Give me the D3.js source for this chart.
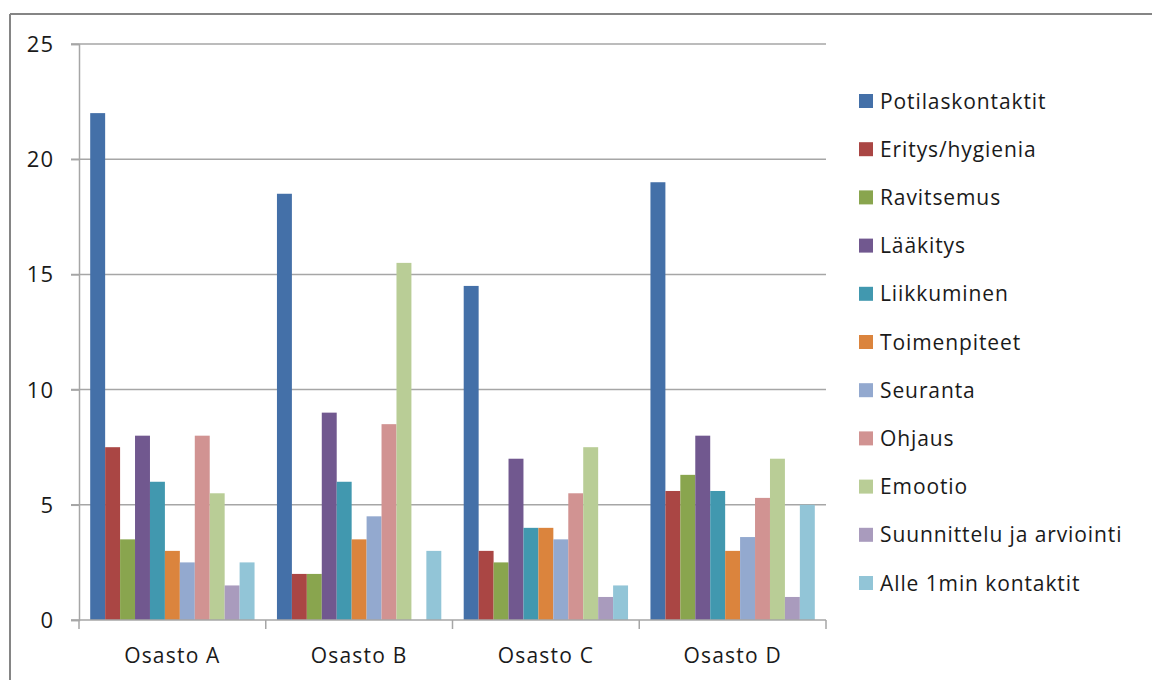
<!DOCTYPE html>
<html>
<head>
<meta charset="utf-8">
<script src="https://cdn.jsdelivr.net/npm/d3@7"></script>
<style>
  html, body { margin: 0; padding: 0; background: #ffffff; }
  svg { display: block; }
  text { font-family: "Open Sans", Lato, sans-serif; fill: #1a1a1a; }
</style>
</head>
<body>
<svg id="chart" width="1152" height="680"></svg>
<script>
// Departments on the x axis
const categories = ["Osasto A", "Osasto B", "Osasto C", "Osasto D"];

// Activity series (legend order)
const series = [
  "Potilaskontaktit",
  "Eritys/hygienia",
  "Ravitsemus",
  "Lääkitys",
  "Liikkuminen",
  "Toimenpiteet",
  "Seuranta",
  "Ohjaus",
  "Emootio",
  "Suunnittelu ja arviointi",
  "Alle 1min kontaktit"
];

// Values per series, one entry per department (A, B, C, D)
const potilaskontaktit = [22, 18.5, 14.5, 19];
const eritysHygienia   = [7.5, 2, 3, 5.6];
const ravitsemus       = [3.5, 2, 2.5, 6.3];
const laakitys         = [8, 9, 7, 8];
const liikkuminen      = [6, 6, 4, 5.6];
const toimenpiteet     = [3, 3.5, 4, 3];
const seuranta         = [2.5, 4.5, 3.5, 3.6];
const ohjaus           = [8, 8.5, 5.5, 5.3];
const emootio          = [5.5, 15.5, 7.5, 7];
const suunnittelu      = [1.5, 0, 1, 1];
const alle1min         = [2.5, 3, 1.5, 5];

const values = [
  potilaskontaktit, eritysHygienia, ravitsemus, laakitys, liikkuminen,
  toimenpiteet, seuranta, ohjaus, emootio, suunnittelu, alle1min
];

// Y axis ticks
const yTicks = [0, 5, 10, 15, 20, 25];

const colors = [
  "#4470a8", "#aa4644", "#89a54e", "#71588f", "#4198af",
  "#db843d", "#93a9cf", "#d19392", "#b9cd96", "#a99bbd", "#92c5d7"
];

const svg = d3.select("#chart");

// Outer frame of the chart area
svg.append("line").attr("x1", 10).attr("x2", 1152).attr("y1", 14).attr("y2", 14)
  .attr("stroke", "#858585").attr("stroke-width", 2.2);
svg.append("line").attr("x1", 10).attr("x2", 10).attr("y1", 14).attr("y2", 680)
  .attr("stroke", "#858585").attr("stroke-width", 2);

const plot = { left: 79, right: 826, top: 44, bottom: 620 };

const y = d3.scaleLinear().domain([0, 25]).range([plot.bottom, plot.top]);
const x0 = d3.scaleBand().domain(categories).range([plot.left, plot.right]);
const x1 = d3.scaleBand().domain(series).range([0, x0.bandwidth()])
  .paddingInner(0).paddingOuter(0.75);
const color = d3.scaleOrdinal().domain(series).range(colors);

// Horizontal gridlines with tick marks on the left
const gridColor = "#a6a6a6";
svg.append("g").selectAll("line").data(yTicks.filter(d => d > 0)).join("line")
  .attr("x1", plot.left - 8).attr("x2", plot.right)
  .attr("y1", d => y(d)).attr("y2", d => y(d))
  .attr("stroke", gridColor).attr("stroke-width", 1.5);

// Y axis
const yAxis = d3.axisLeft(y).tickValues(yTicks).tickSize(8).tickPadding(17);
const gy = svg.append("g").attr("transform", `translate(${plot.left},0)`).call(yAxis);
gy.select(".domain").attr("stroke", gridColor).attr("stroke-width", 1.5);
gy.selectAll(".tick line").attr("stroke", gridColor).attr("stroke-width", 1.5);
gy.selectAll(".tick text").attr("font-size", 22).attr("font-family", "'Open Sans', sans-serif")
  .attr("letter-spacing", 1).attr("fill", "#1a1a1a").attr("dy", "0.34em");

// Bars
const groups = svg.append("g").selectAll("g").data(categories).join("g")
  .attr("transform", c => `translate(${x0(c)},0)`);
groups.selectAll("rect")
  .data((c, ci) => series.map((s, si) => ({ s, v: values[si][ci] })))
  .join("rect")
  .attr("x", d => x1(d.s))
  .attr("width", x1.bandwidth())
  .attr("y", d => y(d.v))
  .attr("height", d => y(0) - y(d.v))
  .attr("fill", d => color(d.s));

// X axis with tick marks on category boundaries
const gx = svg.append("g").attr("transform", `translate(0,${plot.bottom})`);
gx.append("line").attr("x1", plot.left - 8).attr("x2", plot.right)
  .attr("stroke", gridColor).attr("stroke-width", 1.5);
const bounds = categories.map(c => x0(c)).concat([plot.right]);
gx.selectAll("line.tk").data(bounds).join("line").attr("class", "tk")
  .attr("x1", d => d).attr("x2", d => d).attr("y1", 0).attr("y2", 9)
  .attr("stroke", gridColor).attr("stroke-width", 1.5);
gx.selectAll("text").data(categories).join("text")
  .attr("x", c => x0(c) + x0.bandwidth() / 2)
  .attr("y", 43)
  .attr("text-anchor", "middle")
  .attr("font-size", 21)
  .attr("letter-spacing", 1.2)
  .text(c => c);

// Legend
const legend = svg.append("g").attr("transform", "translate(859,101)");
const items = legend.selectAll("g").data(series).join("g")
  .attr("transform", (d, i) => `translate(0,${i * 48.2})`);
items.append("rect").attr("x", 0).attr("y", -7).attr("width", 14).attr("height", 14)
  .attr("fill", d => color(d));
items.append("text").attr("x", 21).attr("y", 0).attr("dy", "0.36em")
  .attr("font-size", 21).attr("letter-spacing", 0.9).text(d => d);
</script>
</body>
</html>
